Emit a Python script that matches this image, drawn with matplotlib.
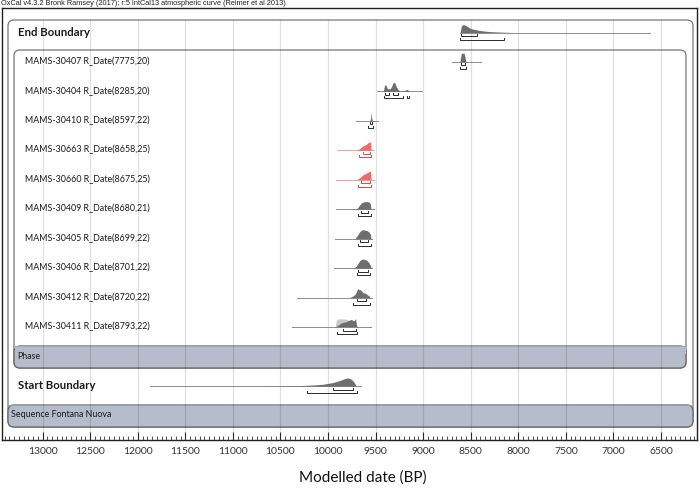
import matplotlib
matplotlib.use("Agg")
import matplotlib.pyplot as plt
from matplotlib.patches import FancyBboxPatch, Rectangle
from matplotlib import transforms
from matplotlib.ticker import MultipleLocator

plt.rcParams['font.family'] = ['Lato', 'DejaVu Sans']

# ---------------- data (years BP) ----------------
row_labels = ["End Boundary",
              "MAMS-30407 R_Date(7775,20)", "MAMS-30404 R_Date(8285,20)",
              "MAMS-30410 R_Date(8597,22)", "MAMS-30663 R_Date(8658,25)",
              "MAMS-30660 R_Date(8675,25)", "MAMS-30409 R_Date(8680,21)",
              "MAMS-30405 R_Date(8699,22)", "MAMS-30406 R_Date(8701,22)",
              "MAMS-30412 R_Date(8720,22)", "MAMS-30411 R_Date(8793,22)",
              "Start Boundary"]
row_red = [False, False, False, False, True, True, False, False, False, False, False, False]

like_ranges = [(8610, 6620), (8702, 8397), (9490, 9017), (9710, 9472),
               (9908, 9521), (9918, 9521), (9916, 9521), (9925, 9535),
               (9935, 9535), (10322, 9535), (10375, 9550), (11873, 9650)]

post_x = [
    [8612, 8600, 8578, 8550, 8510, 8480, 8420, 8350, 8300, 8200, 8050],
    [8615, 8605, 8598, 8585, 8570, 8560, 8550],
    [9420, 9410, 9400, 9392, 9375, 9345, 9330, 9318, 9300, 9285, 9265, 9240, 9200, 9178, 9165, 9150, 9135],
    [9575, 9560, 9552, 9547, 9542, 9535, 9520],
    [9700, 9680, 9660, 9640, 9620, 9600, 9585, 9570, 9560, 9552, 9548],
    [9705, 9685, 9665, 9645, 9625, 9605, 9588, 9572, 9560, 9552, 9548],
    [9710, 9690, 9670, 9650, 9630, 9610, 9590, 9570, 9555, 9548],
    [9725, 9710, 9690, 9670, 9650, 9630, 9610, 9590, 9570, 9555, 9548],
    [9745, 9725, 9705, 9685, 9665, 9645, 9630, 9610, 9590, 9570, 9555, 9546],
    [9770, 9755, 9735, 9715, 9700, 9690, 9680, 9670, 9660, 9645, 9630, 9610, 9590, 9570, 9556],
    [9940, 9910, 9890, 9870, 9850, 9830, 9810, 9790, 9770, 9755, 9740, 9725, 9715, 9710, 9705, 9695],
    [10700, 10500, 10300, 10150, 10050, 9950, 9880, 9830, 9800, 9770, 9740, 9720, 9703],
]
post_y = [
    [0, 0.7, 0.9, 0.75, 0.5, 0.38, 0.25, 0.15, 0.1, 0.05, 0],
    [0, 0.6, 1.0, 0.95, 1.0, 0.5, 0],
    [0, 0.5, 0.78, 0.7, 0.3, 0.3, 0.6, 0.95, 1.0, 0.6, 0.2, 0.05, 0.05, 0.22, 0.2, 0.02, 0],
    [0, 0.05, 0.3, 1.0, 0.35, 0.05, 0],
    [0, 0.1, 0.25, 0.45, 0.55, 0.65, 0.8, 0.9, 0.95, 0.9, 0],
    [0, 0.1, 0.25, 0.45, 0.6, 0.7, 0.8, 0.9, 0.95, 0.9, 0],
    [0, 0.15, 0.45, 0.7, 0.8, 0.85, 0.85, 0.8, 0.6, 0],
    [0, 0.1, 0.4, 0.75, 0.95, 1.0, 0.95, 0.9, 0.75, 0.5, 0],
    [0, 0.05, 0.2, 0.55, 0.85, 1.0, 1.0, 0.95, 0.85, 0.6, 0.3, 0],
    [0, 0.1, 0.2, 0.4, 0.7, 0.95, 1.0, 0.85, 0.9, 0.7, 0.55, 0.5, 0.35, 0.2, 0],
    [0, 0.1, 0.25, 0.4, 0.5, 0.55, 0.6, 0.7, 0.8, 0.85, 0.75, 0.7, 0.9, 0.92, 0.5, 0],
    [0, 0.02, 0.05, 0.12, 0.2, 0.38, 0.6, 0.8, 0.9, 0.85, 0.6, 0.3, 0],
]
# unmodelled likelihood shown for MAMS-30411 (row 10)
like411_x = [9925, 9915, 9900, 9870, 9840, 9810, 9790, 9760, 9730, 9710, 9700]
like411_y = [0, 0.7, 0.9, 0.92, 0.9, 0.88, 0.8, 0.7, 0.6, 0.5, 0]

range68 = [
    [(8605, 8430)], [(8605, 8560)], [(9405, 9360), (9320, 9265)], [(9560, 9535)],
    [(9635, 9556)], [(9650, 9560)], [(9650, 9575)], [(9660, 9580)],
    [(9690, 9585)], [(9700, 9600)], [(9840, 9705)], [(9950, 9739)],
]
range95 = [
    [(8610, 8150)], [(8610, 8550)], [(9415, 9210), (9175, 9148)], [(9585, 9530)],
    [(9675, 9550)], [(9680, 9552)], [(9680, 9550)], [(9690, 9553)],
    [(9700, 9560)], [(9735, 9560)], [(9910, 9700)], [(10218, 9697)],
]
row_index = [0, 1, 2, 3, 4, 5, 6, 7, 8, 9, 10, 12]
phase_label = "Phase"
sequence_label = "Sequence Fontana Nuova"
title = "OxCal v4.3.2 Bronk Ramsey (2017); r:5 IntCal13 atmospheric curve (Reimer et al 2013)"
xlabel = "Modelled date (BP)"
major_ticks = list(range(13000, 6001, -500))

# ---------------- layout ----------------
W, H = 700, 492
fig = plt.figure(figsize=(W / 100, H / 100), dpi=100)

bg = fig.add_axes([0, 0, 1, 1], zorder=0)
bg.set_xlim(0, W)
bg.set_ylim(H, 0)
bg.axis('off')

ax_l, ax_r, ax_t, ax_b = 2, 697, 8, 440
ax = fig.add_axes([ax_l / W, (H - ax_b) / H, (ax_r - ax_l) / W, (ax_b - ax_t) / H], zorder=1)
ax.patch.set_alpha(0)

row0_px, row_px = 32.0, 29.46
ax.set_xlim(13427, 6122)
ax.set_ylim((ax_b - row0_px) / row_px, (ax_t - row0_px) / row_px)

for s in ax.spines.values():
    s.set_color('#222222')
    s.set_linewidth(1.0)

ax.xaxis.set_major_locator(MultipleLocator(500))
ax.xaxis.set_minor_locator(MultipleLocator(50))
ax.set_xticks(major_ticks)
ax.set_xticklabels([str(t) for t in major_ticks])
ax.tick_params(axis='x', which='major', direction='in', length=6, width=0.8,
               color='#333333', labelsize=7.5, labelcolor='#333333', pad=5)
ax.tick_params(axis='x', which='minor', direction='in', length=3, width=0.6, color='#333333')
ax.tick_params(axis='y', left=False, labelleft=False)

bg.text(363, 478, xlabel, fontsize=11, color='#111111', ha='center', va='center', zorder=10)

# rounded boxes (pixel coords)
def rbox(x0, y0, x1, y1, fc='none', ec='#777777', lw=0.9, r=6, z=1):
    p = FancyBboxPatch((x0, y0), x1 - x0, y1 - y0,
                       boxstyle=f"round,pad=0,rounding_size={r}",
                       fc=fc, ec=ec, lw=lw, zorder=z)
    bg.add_patch(p)

band_c = '#b5bdcc'
rbox(8, 20, 693, 427, fc='white', ec='#777777', z=1)
rbox(8, 405, 693, 427, fc=band_c, ec='#666666', z=2)
rbox(14, 50, 686, 368, fc='white', ec='#777777', z=3)
rbox(14, 346, 686, 368, fc=band_c, ec='#666666', z=4)
bg.add_patch(Rectangle((14.5, 346), 671, 8, fc=band_c, ec='none', zorder=4.5))
bg.plot([14, 686], [346, 346], color='#9aa2b2', lw=0.6, zorder=4.6)
bg.plot([8, 693], [405, 405], color='#9aa2b2', lw=0.6, zorder=2.6)

# grid lines
gtop = 1 - (20 - ax_t) / (ax_b - ax_t)
ax.vlines(major_ticks, 0, gtop, transform=ax.get_xaxis_transform(),
          color='black', alpha=0.12, lw=0.9, zorder=2)

# title
bg.text(1, 3.5, title, fontsize=5.3, family=['Liberation Sans', 'DejaVu Sans'],
        color='#222222', va='center', ha='left', zorder=10)

# labels
lab_tr = transforms.blended_transform_factory(bg.transData, ax.transData)
for i, lab in zip(row_index, row_labels):
    bold = 'Boundary' in lab
    ax.text(18 if bold else 25, i, lab, transform=lab_tr, fontsize=8.2 if bold else 6.4,
            fontweight='bold' if bold else 'normal', color='#1a1a1a', va='center', ha='left', zorder=5)
ax.text(17, 11, phase_label, transform=lab_tr, fontsize=6.4, color='#1a1a1a', va='center', zorder=5)
ax.text(11, 13, sequence_label, transform=lab_tr, fontsize=6.4, color='#1a1a1a', va='center', zorder=5)

# distributions
hscale = 9.0 / row_px
base_off = 0.5 / row_px
b68, b95, tick_h = 3.5 / row_px, 7.0 / row_px, 2.0 / row_px
for k, i in enumerate(row_index):
    red = row_red[k]
    base = i + base_off
    fill_c = '#f26b6b' if red else '#6e6e6e'
    line_c = '#f3a0a0' if red else '#8c8c8c'
    br_c = '#d84a4a' if red else '#2a2a2a'
    ax.plot(like_ranges[k], [base, base], color=line_c, lw=0.7, zorder=6)
    if i == 10:
        ax.fill_between(like411_x, base, [base - v * hscale for v in like411_y],
                        color='#c8c8c8', lw=0, zorder=6.5)
    ys = [base - v * hscale for v in post_y[k]]
    ax.fill_between(post_x[k], base, ys, color=fill_c, lw=0, zorder=7)
    for off, ranges in ((b68, range68[k]), (b95, range95[k])):
        yb = base + off
        for a, b in ranges:
            ax.plot([a, a, b, b], [yb - tick_h, yb, yb, yb - tick_h], color=br_c,
                    lw=0.7, zorder=8, solid_joinstyle='miter')

fig.savefig("out.png", dpi=100)
